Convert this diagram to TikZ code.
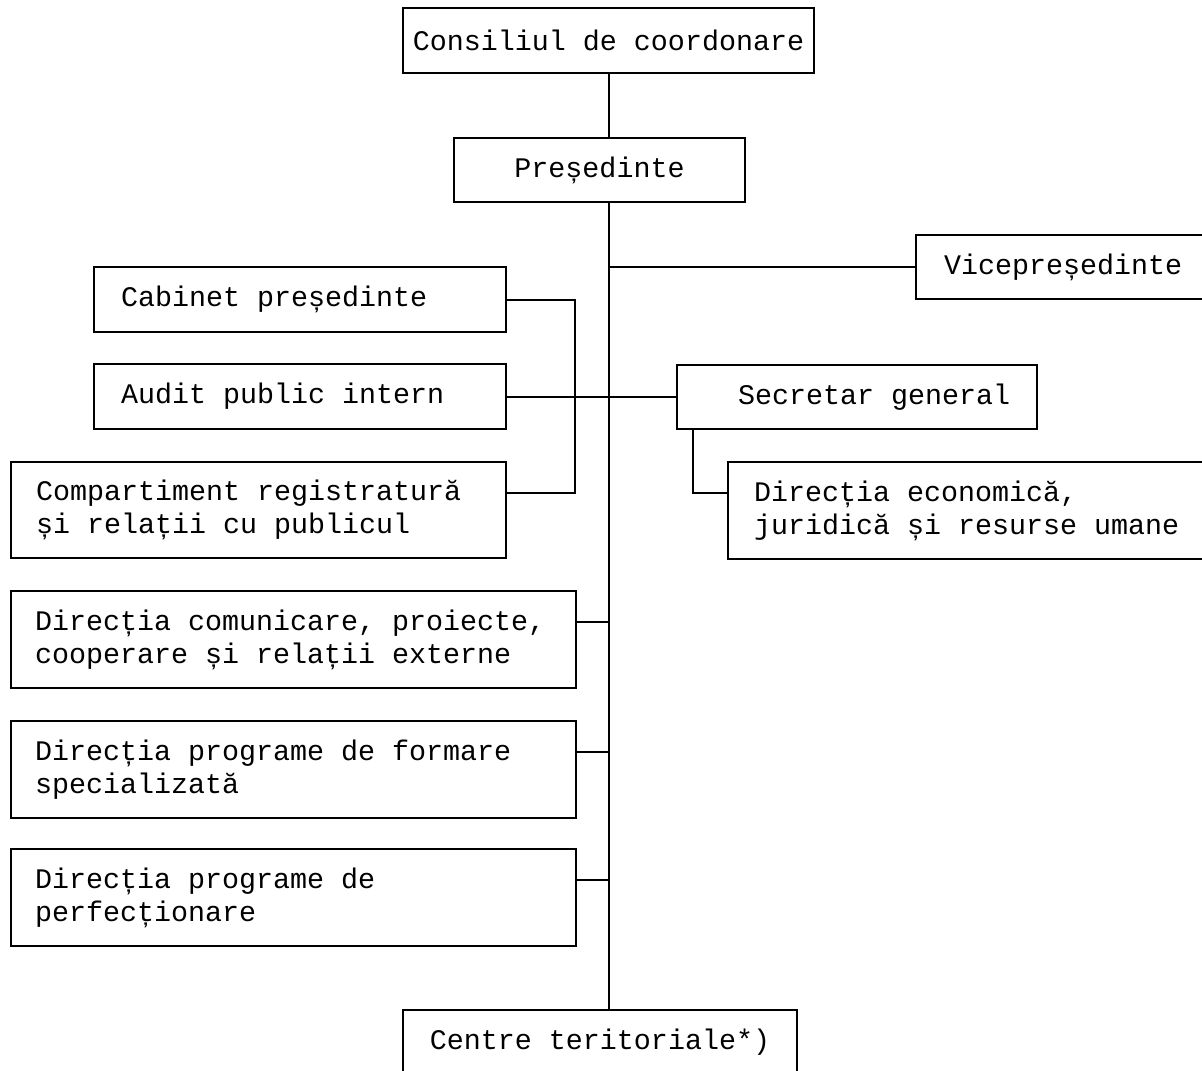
\documentclass[tikz,border=0pt]{standalone}
\usepackage{fontspec}
\usepackage{tikz}
\newfontfamily\orgmono{Liberation Mono}
\newcommand\orgfont{\orgmono\fontsize{14.17pt}{16.5pt}\selectfont}

\begin{document}
\begin{tikzpicture}[x=0.5pt, y=-0.5pt, line width=1pt,
	unit/.style={draw, anchor=north west, inner ysep=0pt, font=\orgfont, align=left,
		execute at begin node={\spaceskip=0.6em\xspaceskip=0.6em\relax}}]
	\useasboundingbox (0,0) rectangle (1202,1070);
	\clip (0,0) rectangle (1202,1070);

	% conducere
	\node[unit, align=center, inner xsep=3pt, text width=199.5pt, minimum height=32.5pt] (cons) at (402,7) {Consiliul de coordonare};
	\node[unit, align=center, inner xsep=5pt, text width=135.5pt, minimum height=32pt] (pres) at (453,137) {Președinte};
	\node[unit, inner xsep=14pt, text width=127pt, minimum height=32pt] (vice) at (915,234) {Vicepreședinte};
	\node[unit, inner xsep=12pt, text width=156pt, minimum height=32pt] (secr) at (676,364) {\hspace*{18.5pt}Secretar general};
	\node[unit, inner xsep=13pt, text width=219pt, minimum height=48.5pt] (econ) at (727,461) {Direcția economică,\\juridică și resurse umane};

	% in subordinea presedintelui
	\node[unit, inner xsep=13.5pt, text width=179pt, minimum height=32.5pt] (cab) at (93,266) {Cabinet președinte};
	\node[unit, inner xsep=13.5pt, text width=179pt, minimum height=32.5pt] (audit) at (93,363) {Audit public intern};
	\node[unit, inner xsep=12.5pt, text width=222.5pt, minimum height=48pt] (comp) at (10,461) {Compartiment registratură\\și relații cu publicul};

	% directii
	\node[unit, inner xsep=12pt, text width=258.5pt, minimum height=48.5pt] (comun) at (10,590) {Direcția comunicare, proiecte,\\cooperare și relații externe};
	\node[unit, inner xsep=12pt, text width=258.5pt, minimum height=48.5pt] (formare) at (10,720) {Direcția programe de formare\\specializată};
	\node[unit, inner xsep=12pt, text width=258.5pt, minimum height=48.5pt] (perf) at (10,848) {Direcția programe de\\perfecționare};
	\node[unit, align=center, inner xsep=5pt, text width=187pt, minimum height=32.5pt] (centre) at (402,1009) {Centre teritoriale*)};

	% linia principala
	\draw (cons.south) -- (cons.south |- pres.north);
	\draw (cons.south |- pres.south) -- (cons.south |- centre.north);
	\draw (cons.south |- vice.west) -- (vice.west);

	\coordinate (pincomp) at ([yshift=-16pt]comp.north east);
	\draw (cab.east) -| ([xshift=34pt]pincomp) -- (pincomp);
	\draw (audit.east) -- (audit.east -| secr.west);

	\coordinate (pinecon) at ([yshift=-16pt]econ.north west);
	\draw ([xshift=8.5pt]secr.south west) |- (pinecon);

	\foreach \n in {comun,formare,perf}
	{
		\coordinate (pin\n) at ([yshift=-16pt]\n.north east);
		\draw (pin\n) -- (pin\n -| cons.south);
	}
\end{tikzpicture}
\end{document}
